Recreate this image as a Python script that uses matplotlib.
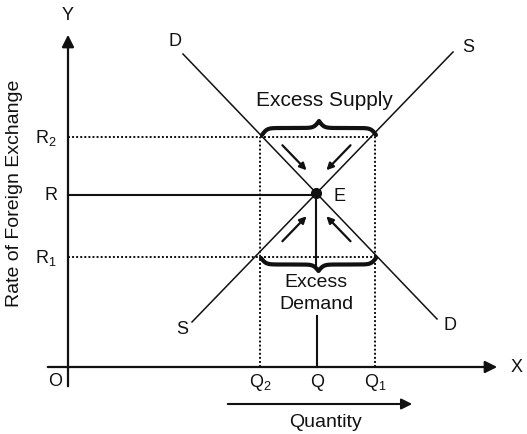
import numpy as np
import matplotlib
matplotlib.use("Agg")
import matplotlib.pyplot as plt

plt.rcParams['font.family'] = ['Liberation Sans', 'DejaVu Sans']
plt.rcParams['mathtext.default'] = 'regular'

# ---- data (chart units, origin at O) ----
q_labels = ['Q$_2$', 'Q', 'Q$_1$']
q_values = [192, 249, 307]          # Q2, Q, Q1
r_labels = ['R$_1$', 'R', 'R$_2$']
r_values = [110, 172, 230]          # R1, R, R2
demand_x = [115, 369]
demand_y = [313, 48]
supply_x = [124, 385]
supply_y = [45, 315]

Q2, Q, Q1 = q_values
R1, R, R2 = r_values

fig = plt.figure(figsize=(5.27, 4.35), dpi=100)
ax = fig.add_axes([0, 0, 1, 1])
ax.set_xlim(-68, 459)
ax.set_ylim(-67, 368)
ax.axis('off')

K = '#111111'

# axes with arrows
ax.annotate('', xy=(432, 0), xytext=(-23, 0),
            arrowprops=dict(arrowstyle='-|>', mutation_scale=18, lw=1.6, color=K))
ax.annotate('', xy=(0, 335), xytext=(0, -22),
            arrowprops=dict(arrowstyle='-|>', mutation_scale=18, lw=1.6, color=K))
ax.text(0, 352, 'Y', ha='center', va='center', fontsize=13, color=K)
ax.text(449, 0, 'X', ha='center', va='center', fontsize=13, color=K)
ax.text(-13, -14, 'O', ha='center', va='center', fontsize=13, color=K)

# demand and supply
ax.plot(demand_x, demand_y, color=K, lw=1.1)
ax.plot(supply_x, supply_y, color=K, lw=1.1)
ax.text(107, 326, 'D', ha='center', va='center', fontsize=13, color=K)
ax.text(382, 42, 'D', ha='center', va='center', fontsize=13, color=K)
ax.text(400, 320, 'S', ha='center', va='center', fontsize=13, color=K)
ax.text(114, 38, 'S', ha='center', va='center', fontsize=13, color=K)

# equilibrium
sd = (demand_y[1] - demand_y[0]) / (demand_x[1] - demand_x[0])
ss = (supply_y[1] - supply_y[0]) / (supply_x[1] - supply_x[0])
ex = (supply_y[0] - ss * supply_x[0] - demand_y[0] + sd * demand_x[0]) / (sd - ss)
ey = demand_y[0] + sd * (ex - demand_x[0])
ax.plot([0, ex], [R, R], color=K, lw=1.5)
ax.plot(ex, ey, 'o', color=K, ms=7)
ax.text(ex + 17, ey - 2, 'E', ha='left', va='center', fontsize=13, color=K)

# dotted guides
dot = dict(color=K, lw=1.4, linestyle=(0, (1, 1.1)))
ax.plot([0, Q1], [R2, R2], **dot)
ax.plot([0, Q1], [R1, R1], **dot)
ax.plot([Q2, Q2], [0, R2], **dot)
ax.plot([Q1, Q1], [0, R2], **dot)

# vertical solid line at Q
ax.plot([ex, ex], [ey, R1 - 12], color=K, lw=1.5)
ax.plot([Q, Q], [0, 51], color=K, lw=1.5)

# tick labels
for lab, v in zip(q_labels, q_values):
    ax.text(v, -15, lab, ha='center', va='center', fontsize=13, color=K)
for lab, v in zip(r_labels, r_values):
    ax.text(-11, v, lab, ha='right', va='center', fontsize=13, color=K)

ax.text(-53, 175, 'Rate of Foreign Exchange', rotation=90, ha='center',
        va='center', fontsize=14, color=K)

# quantity arrow
ax.annotate('', xy=(347, -37), xytext=(157, -37),
            arrowprops=dict(arrowstyle='-|>', mutation_scale=16, lw=1.5, color=K))
ax.text(257, -55, 'Quantity', ha='center', va='center', fontsize=14, color=K)


def brace(x0, x1, y0, h, beta=0.4, n=200):
    half = (x1 - x0) / 2
    xh = np.linspace(0, half, n)
    yh = 1 / (1 + np.exp(-beta * (xh - xh[0]))) + 1 / (1 + np.exp(-beta * (xh - xh[-1])))
    xs = np.concatenate([x0 + xh, x0 + half + xh[::-1][1:] * -1 + half])
    ys = np.concatenate([yh, yh[-2::-1]])
    ys = y0 + (ys - 0.5) * h
    return xs, ys


bx, by = brace(Q2 + 2, Q1 + 1, R2 + 2, 14)
ax.plot(bx, by, color=K, lw=3.0, solid_capstyle='round')
bx, by = brace(Q2 + 1, Q1 + 1, R1 - 1, -13)
ax.plot(bx, by, color=K, lw=3.0, solid_capstyle='round')

ax.text(256, 267, 'Excess Supply', ha='center', va='center', fontsize=15, color=K)
ax.text(248, 85, 'Excess', ha='center', va='center', fontsize=14, color=K)
ax.text(248, 63, 'Demand', ha='center', va='center', fontsize=14, color=K)

# adjustment arrows
for sx, sy in [(-1, 1), (1, 1), (-1, -1), (1, -1)]:
    start = (ex + sx * 36, ey + sy * 50)
    end = (ex + sx * 8, ey + sy * 21)
    ax.annotate('', xy=end, xytext=start,
                arrowprops=dict(arrowstyle='-|>', mutation_scale=10, lw=1.6, color=K))

fig.savefig('out.png', dpi=100)
